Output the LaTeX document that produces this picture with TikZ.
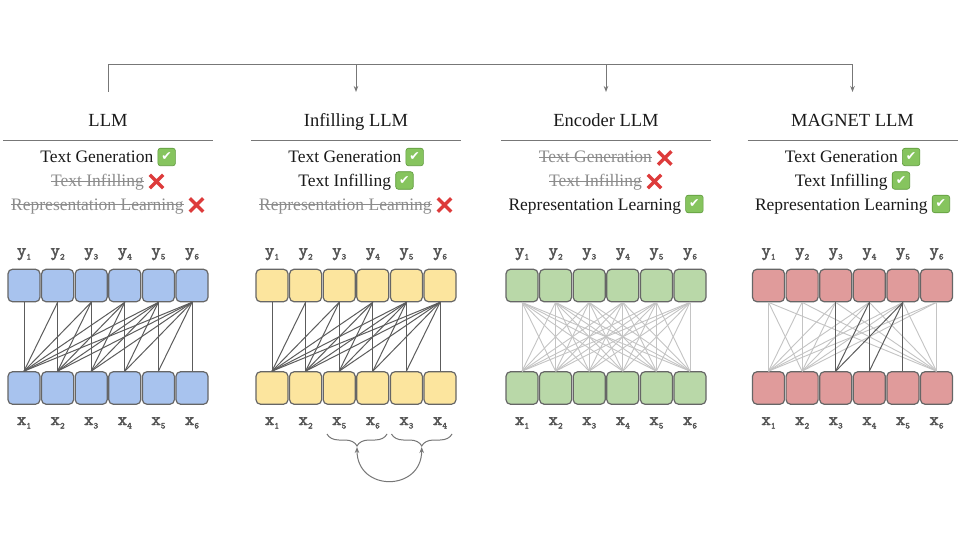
\documentclass[tikz,border=0pt]{standalone}
\usepackage{fontspec}
\setmainfont{Liberation Serif}
\newfontfamily\dejavu{DejaVu Sans}
\newfontfamily\lblfont{lmmono10-regular}[Extension=.otf, FakeBold=2.5]
\usetikzlibrary{decorations.pathreplacing,arrows.meta}
\definecolor{txt}{HTML}{1A1A1A}
\definecolor{strk}{HTML}{8C8C8C}
\definecolor{cellA}{HTML}{A8C3EE}
\definecolor{cellB}{HTML}{FCE59E}
\definecolor{cellC}{HTML}{B9D8A8}
\definecolor{cellD}{HTML}{E09B9B}
\definecolor{cellborder}{HTML}{666666}
\definecolor{dkline}{HTML}{5C5C5C}
\definecolor{ltline}{HTML}{C4C4C4}
\definecolor{lblgray}{HTML}{555555}
\definecolor{busgray}{HTML}{777777}
\definecolor{chkfill}{HTML}{86C45E}
\definecolor{chkborder}{HTML}{5E9A3C}
\definecolor{crossred}{HTML}{DD3B3B}
\newcommand\lsub[1]{\raisebox{-3.5pt}{\fontsize{9}{9}\selectfont #1}}
\newcommand\yes{\tikz[baseline=-6pt]{\node[anchor=center, fill=chkfill, draw=chkborder, line width=0.6pt, rounded corners=2.5pt, minimum size=17.5pt, inner sep=0pt, text=white, font=\dejavu\fontsize{12.5}{12.5}\selectfont]{✔};}}
\newcommand\nope{\tikz[baseline=-5pt]{\draw[crossred, line width=3.3pt] (-6.7pt,-6.7pt) -- (6.7pt,6.7pt) (-6.7pt,6.7pt) -- (6.7pt,-6.7pt);}}
\newlength\strklen
\newcommand\strk[1]{\settowidth\strklen{#1}\textcolor{strk}{\rlap{\rule[4.6pt]{\strklen}{1.1pt}}#1}}
\begin{document}
\begin{tikzpicture}[x=1pt,y=-1pt,
  cell/.style={draw=cellborder, line width=1.2pt, rounded corners=4.5pt, minimum width=32pt, minimum height=32.5pt, inner sep=0pt},
  lbl/.style={font=\lblfont\fontsize{18}{18}\selectfont, text=lblgray, anchor=base, inner sep=0pt},
  ttl/.style={font=\fontsize{18.5}{20}\selectfont, text=txt, anchor=base, inner sep=0pt},
  feat/.style={font=\fontsize{17.5}{20}\selectfont, text=txt, anchor=base, inner sep=0pt},
  rulel/.style={draw=busgray, line width=1.4pt},
  dk/.style={draw=dkline, line width=1pt},
  lt/.style={draw=ltline, line width=0.9pt},
  bus/.style={draw=busgray, line width=1pt},
  busarrow/.style={bus, -{Stealth[length=6pt,width=4.5pt]}},
  brc/.style={draw=busgray, line width=1pt, decorate, decoration={brace, mirror, amplitude=12pt}},
  swaparc/.style={draw=busgray, line width=1pt, {Stealth[length=6pt,width=4.5pt]}-{Stealth[length=6pt,width=4.5pt]}}
]
\useasboundingbox[fill=white] (0,0) rectangle (960,540);

% top bus
\coordinate (busA) at (108,65);
\coordinate (busB) at (356,65);
\coordinate (busC) at (606,65);
\coordinate (busD) at (852.5,65);
\coordinate (tipA) at (108,92);
\coordinate (tipB) at (356,92);
\coordinate (tipC) at (606,92);
\coordinate (tipD) at (852.5,92);
\draw[bus] (tipA) -- (busA) -- (busD);
\draw[busarrow] (busB) -- (tipB);
\draw[busarrow] (busC) -- (tipC);
\draw[busarrow] (busD) -- (tipD);

% titles, rules, features
\foreach \p/\cx/\name in {A/108/LLM, B/356/Infilling LLM, C/606/Encoder LLM, D/852.5/MAGNET LLM}{
  \node[ttl] (\p h) at (\cx,127) {\name};
  \draw[rulel] (\cx-105,140.5) -- (\cx+105,140.5);
}
\node[feat] (Af1) at (108,163) {Text Generation \yes};
\node[feat] (Af2) at (108,186.5) {\strk{Text Infilling} \nope};
\node[feat] (Af3) at (108,210) {\strk{Representation Learning} \nope};
\node[feat] (Bf1) at (356,163) {Text Generation \yes};
\node[feat] (Bf2) at (356,186.5) {Text Infilling \yes};
\node[feat] (Bf3) at (356,210) {\strk{Representation Learning} \nope};
\node[feat] (Cf1) at (606,163) {\strk{Text Generation} \nope};
\node[feat] (Cf2) at (606,186.5) {\strk{Text Infilling} \nope};
\node[feat] (Cf3) at (606,210) {Representation Learning \yes};
\node[feat] (Df1) at (852.5,163) {Text Generation \yes};
\node[feat] (Df2) at (852.5,186.5) {Text Infilling \yes};
\node[feat] (Df3) at (852.5,210) {Representation Learning \yes};

% cells and y labels
\foreach \p/\cx/\col in {A/108/cellA, B/356/cellB, C/606/cellC, D/852.5/cellD}{
  \foreach \i in {1,...,6}{
    \pgfmathsetmacro\xx{\cx+(\i-3.5)*33.6}
    \node[cell, fill=\col] (\p t\i) at (\xx,285.5) {};
    \node[cell, fill=\col] (\p b\i) at (\xx,388) {};
    \node[lbl] (\p y\i) at (\xx,256) {y\lsub{\i}};
  }
}
% x labels
\foreach \p/\cx in {A/108, C/606, D/852.5}{
  \foreach \i in {1,...,6}{
    \pgfmathsetmacro\xx{\cx+(\i-3.5)*33.6}
    \node[lbl] (\p x\i) at (\xx,425) {x\lsub{\i}};
  }
}
\foreach \i/\k in {1/1,2/2,3/5,4/6,5/3,6/4}{
  \pgfmathsetmacro\xx{356+(\i-3.5)*33.6}
  \node[lbl] (Bx\i) at (\xx,425) {x\lsub{\k}};
}

% connections: causal LLM and infilling LLM
\foreach \p in {A,B}{
  \foreach \j in {1,...,6}{
    \foreach \i in {1,...,\j}{
      \draw[dk] (\p t\j.south) -- (\p b\i.north);
    }
  }
}
% encoder: full
\foreach \j in {1,...,6}{
  \foreach \i in {1,...,6}{
    \draw[lt] (Ct\j.south) -- (Cb\i.north);
  }
}
% MAGNET
\foreach \j in {1,...,6}{
  \foreach \i in {1,2,6}{
    \draw[lt] (Dt\j.south) -- (Db\i.north);
  }
}
\foreach \j/\i in {3/3,4/3,4/4,5/3,5/4,5/5}{
  \draw[dk] (Dt\j.south) -- (Db\i.north);
}

% braces and swap arc
\draw[brc] (327,434) -- (387,434);
\draw[brc] (391.5,434) -- (452,434);
\coordinate (br1) at (357,447);
\coordinate (br2) at (421.7,447);
\draw[swaparc] (br1) .. controls (357,492) and (421.7,492) .. (br2);
\end{tikzpicture}
\end{document}
